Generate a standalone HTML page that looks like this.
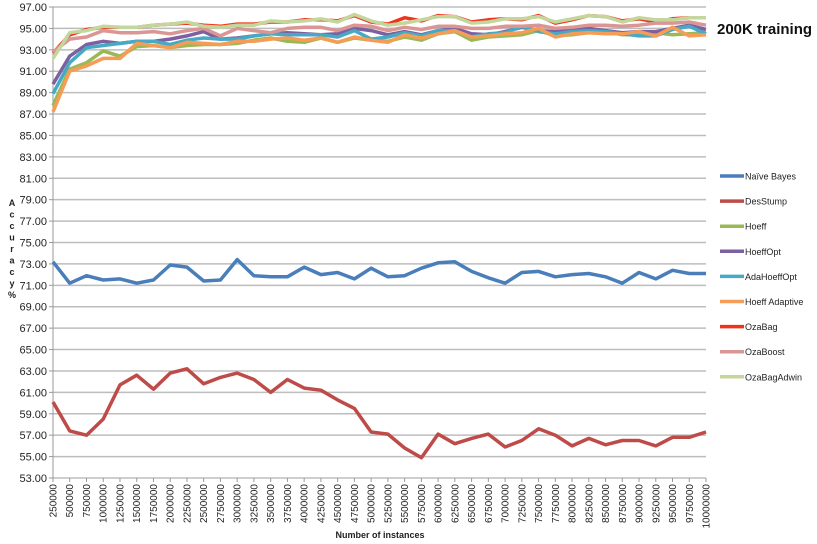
<!DOCTYPE html>
<html><head><meta charset="utf-8"><style>
body{margin:0;background:#fff;}
svg{display:block;font-family:"Liberation Sans",sans-serif;}
</style></head><body>
<svg id="c" width="817" height="544" viewBox="0 0 817 544"></svg>
<script>
const categories=[];for(let i=1;i<=40;i++)categories.push(String(i*250000));
const yTicks=[53,55,57,59,61,63,65,67,69,71,73,75,77,79,81,83,85,87,89,91,93,95,97];
const seriesNames=["Naïve Bayes","DesStump","Hoeff","HoeffOpt","AdaHoeffOpt","Hoeff Adaptive","OzaBag","OzaBoost","OzaBagAdwin"];
const seriesColors=["#4a7ebb","#be4b48","#98b954","#7d60a0","#46aac5","#f59d56","#f0341a","#d99694","#c3d69b"];
const naiveBayes=[73.2,71.2,71.9,71.5,71.6,71.2,71.5,72.9,72.7,71.4,71.5,73.4,71.9,71.8,71.8,72.7,72.0,72.2,71.6,72.6,71.8,71.9,72.6,73.1,73.2,72.3,71.7,71.2,72.2,72.3,71.8,72.0,72.1,71.8,71.2,72.2,71.6,72.4,72.1,72.1];
const desStump=[60.1,57.4,57.0,58.5,61.7,62.6,61.3,62.8,63.2,61.8,62.4,62.8,62.2,61.0,62.2,61.4,61.2,60.3,59.5,57.3,57.1,55.8,54.9,57.1,56.2,56.7,57.1,55.9,56.5,57.6,57.0,56.0,56.7,56.1,56.5,56.5,56.0,56.8,56.8,57.3];
const hoeff=[87.8,91.2,91.8,92.9,92.4,93.3,93.4,93.2,93.4,93.5,93.5,93.6,93.9,94.1,93.8,93.7,94.1,93.7,94.1,93.9,93.8,94.2,93.9,94.5,94.7,93.9,94.2,94.3,94.4,94.8,94.3,94.4,94.6,94.7,94.4,94.4,94.6,94.4,94.5,94.6];
const hoeffOpt=[89.8,92.4,93.5,93.8,93.6,93.8,93.8,94.0,94.3,94.7,94.0,94.1,94.3,94.5,94.6,94.5,94.4,94.5,95.0,94.8,94.4,94.7,94.4,94.8,95.0,94.5,94.4,94.7,95.1,94.8,94.7,94.9,95.0,94.8,94.6,94.7,94.7,95.0,95.3,94.9];
const adaHoeffOpt=[88.9,91.8,93.2,93.4,93.6,93.8,93.8,93.5,93.9,94.1,94.0,94.0,94.3,94.5,94.4,94.4,94.4,94.2,94.8,94.0,94.2,94.6,94.3,94.8,94.8,94.2,94.5,94.6,95.2,94.7,94.5,94.7,94.8,94.7,94.5,94.3,94.3,94.9,95.2,94.5];
const hoeffAdaptive=[87.2,91.0,91.5,92.2,92.2,93.6,93.4,93.2,93.7,93.6,93.5,93.8,93.8,94.0,94.1,93.9,94.1,93.7,94.2,93.9,93.7,94.4,94.1,94.5,94.8,94.2,94.3,94.5,94.6,95.0,94.2,94.5,94.6,94.5,94.5,94.7,94.3,95.1,94.3,94.4];
const ozaBag=[92.7,94.4,94.9,95.1,95.1,95.1,95.3,95.4,95.5,95.3,95.2,95.4,95.4,95.6,95.6,95.8,95.8,95.7,96.2,95.6,95.4,96.0,95.7,96.2,96.1,95.6,95.8,95.9,95.8,96.2,95.5,95.8,96.2,96.1,95.7,95.9,95.6,95.9,96.0,96.0];
const ozaBoost=[92.8,94.0,94.2,94.8,94.6,94.6,94.7,94.5,94.8,95.0,94.3,95.0,94.8,94.6,95.0,95.1,95.1,94.8,95.3,95.2,94.8,95.1,94.9,95.2,95.2,95.0,95.0,95.2,95.2,95.3,95.0,95.1,95.3,95.3,95.2,95.3,95.5,95.5,95.6,95.3];
const ozaBagAdwin=[92.2,94.6,94.8,95.2,95.1,95.1,95.3,95.4,95.6,95.2,95.1,95.3,95.3,95.7,95.6,95.7,95.9,95.6,96.3,95.7,95.3,95.5,95.8,96.1,96.1,95.5,95.6,95.9,95.9,96.1,95.6,95.9,96.2,96.1,95.6,96.0,95.8,95.8,96.0,96.0];
const seriesData=[naiveBayes,desStump,hoeff,hoeffOpt,adaHoeffOpt,hoeffAdaptive,ozaBag,ozaBoost,ozaBagAdwin];

const svg=document.getElementById('c');const NS='http://www.w3.org/2000/svg';
const X0=53,X1=706,Y0=478,Y1=7,YMIN=53,YMAX=97;
const xs=i=>X0+i*(X1-X0)/(categories.length-1);
const ys=v=>Y0-(v-YMIN)*(Y0-Y1)/(YMAX-YMIN);
function mk(t,a,p){const e=document.createElementNS(NS,t);for(const k in a)e.setAttribute(k,a[k]);(p||svg).appendChild(e);return e;}
// grid + y labels
yTicks.forEach(v=>{
 const g=mk('line',{x1:X0,x2:X1,y1:ys(v),y2:ys(v),stroke:'#bdbdbd','stroke-width':1.5});
 
 
 const t=mk('text',{x:47,y:ys(v)+4,'text-anchor':'end','font-size':11,fill:'#222'});t.textContent=v.toFixed(2);
 
 
 mk('line',{x1:X0-4,x2:X0,y1:ys(v),y2:ys(v),stroke:'#999'});
});
const ax=mk('line',{x1:X0,x2:X0,y1:Y1,y2:Y0,stroke:'#999'});


// x ticks
categories.forEach((c,i)=>{
 mk('line',{x1:xs(i),x2:xs(i),y1:Y0,y2:Y0+4,stroke:'#999'});
 const t=mk('text',{transform:`translate(${xs(i)+3.5},${Y0+6}) rotate(-90)`,'text-anchor':'end','font-size':10,fill:'#222'});
 t.textContent=c;
 
 
});
// series
seriesData.forEach((d,s)=>{
 const p=mk('polyline',{points:d.map((v,i)=>xs(i).toFixed(1)+','+ys(v).toFixed(1)).join(' '),fill:'none',stroke:seriesColors[s],'stroke-width':3.5,'stroke-linejoin':'round'});
 
 
 const ly=176+s*25.1;
 mk('line',{x1:720,x2:744,y1:ly,y2:ly,stroke:seriesColors[s],'stroke-width':3.5});
 const t=mk('text',{x:745,y:ly+3.5,'font-size':9,fill:'#222'});t.textContent=seriesNames[s];
 
 
});
const xt=mk('text',{x:380,y:538,'text-anchor':'middle','font-size':9,'font-weight':'bold',fill:'#222'});xt.textContent='Number of instances';


const yt=mk('text',{'font-size':9,'font-weight':'bold',fill:'#222'});


"Accuracy%".split('').forEach((ch,i)=>{const sp=mk('tspan',{x:12,y:206+i*11.5,'text-anchor':'middle'},yt);sp.textContent=ch;});
const ti=mk('text',{x:717,y:34,'font-size':15,'font-weight':'bold',fill:'#111'});ti.textContent='200K training';


</script>
</body></html>
